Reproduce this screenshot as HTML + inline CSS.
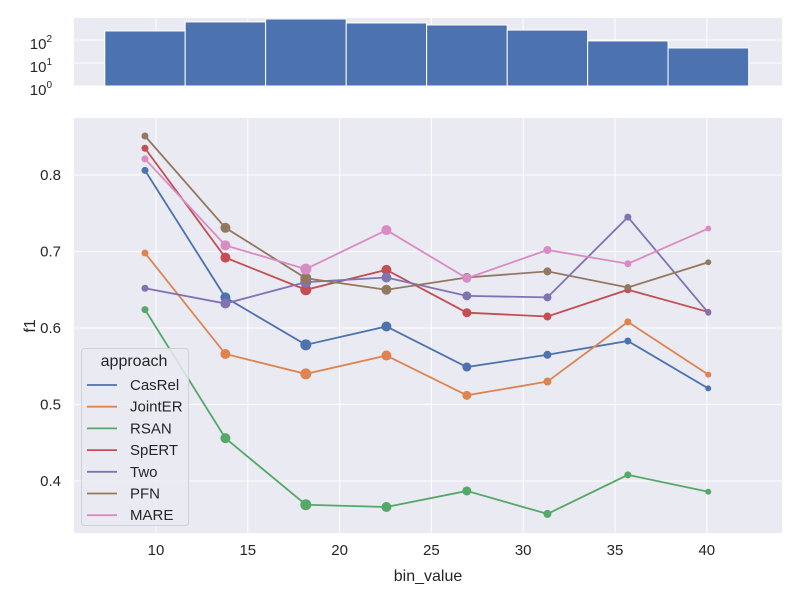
<!DOCTYPE html>
<html><head><meta charset="utf-8"><style>
body{margin:0;background:#fff;}
svg text{font-family:"Liberation Sans",sans-serif;fill:#262626;}
</style></head><body>
<svg id="c" width="800" height="600" xmlns="http://www.w3.org/2000/svg"></svg>
<script>
const bins = [9.4, 13.78, 18.16, 22.55, 26.93, 31.32, 35.7, 40.08];
const binEdges = [7.21, 11.59, 15.97, 20.36, 24.74, 29.13, 33.51, 37.89, 42.28];
const counts = [247, 610, 820, 550, 450, 270, 91, 45];
const markerSizes = [3.5, 5, 5.5, 5, 4.5, 4, 3.5, 3];
const approaches = ["CasRel","JointER","RSAN","SpERT","Two","PFN","MARE"];
const colors = ["#4c72b0","#dd8452","#55a868","#c44e52","#8172b3","#937860","#da8bc3"];
const casrel = [0.806,0.640,0.578,0.602,0.549,0.565,0.583,0.521];
const jointer = [0.698,0.566,0.540,0.564,0.512,0.530,0.608,0.539];
const rsan = [0.624,0.456,0.369,0.366,0.387,0.357,0.408,0.386];
const spert = [0.835,0.692,0.650,0.676,0.620,0.615,0.650,0.621];
const two = [0.652,0.632,0.660,0.666,0.642,0.640,0.745,0.620];
const pfn = [0.851,0.731,0.665,0.650,0.666,0.674,0.653,0.686];
const mare = [0.821,0.708,0.677,0.728,0.665,0.702,0.684,0.730];
const series = [casrel,jointer,rsan,spert,two,pfn,mare];
const xTicks = [10,15,20,25,30,35,40];
const yTicks = [0.4,0.5,0.6,0.7,0.8];
const histYTicks = [0,1,2];

const svg = document.getElementById('c');
const NS = "http://www.w3.org/2000/svg";
function mk(tag, attrs, parent){const e=document.createElementNS(NS,tag);for(const k in attrs)e.setAttribute(k,attrs[k]);(parent||svg).appendChild(e);return e;}
const X = v => 156 + (v-10)*18.36;
const Y = v => 175 + (0.8-v)*765;
const HY = c => 86 - Math.log10(c)*23;

const hbg = mk('rect',{x:74,y:18,width:708,height:68,fill:'#eaeaf2'});


xTicks.forEach(t=>{const l=mk('line',{x1:X(t),x2:X(t),y1:18,y2:86,stroke:'#fff','stroke-width':1});

});
histYTicks.forEach(p=>{const y=86-p*23;
const l=mk('line',{x1:74,x2:782,y1:y,y2:y,stroke:'#fff','stroke-width':1});


const t=mk('text',{x:52,y:y+9,'font-size':15,'text-anchor':'end'});t.textContent='10';


const s=mk('tspan',{dy:-7,'font-size':10});s.textContent=String(p);t.appendChild(s);});
counts.forEach((c,i)=>{const x0=X(binEdges[i]),x1=X(binEdges[i+1]);
const r=mk('rect',{x:x0,y:HY(c),width:x1-x0,height:86-HY(c),fill:'#4c72b0',stroke:'#fff','stroke-width':1});

});

const bg = mk('rect',{x:74,y:118,width:708,height:415,fill:'#eaeaf2'});


xTicks.forEach(t=>{const l=mk('line',{x1:X(t),x2:X(t),y1:118,y2:533,stroke:'#fff','stroke-width':1});


const tx=mk('text',{x:X(t),y:555,'font-size':15,'text-anchor':'middle'});tx.textContent=t;

});
yTicks.forEach(t=>{const l=mk('line',{x1:74,x2:782,y1:Y(t),y2:Y(t),stroke:'#fff','stroke-width':1});


const tx=mk('text',{x:61,y:Y(t)+5,'font-size':15,'text-anchor':'end'});tx.textContent=t.toFixed(1);

});

series.forEach((vals,si)=>{
const g=mk('g',{});


const pl=mk('polyline',{points:vals.map((v,i)=>X(bins[i])+','+Y(v)).join(' '),fill:'none',stroke:colors[si],'stroke-width':1.8},g);


vals.forEach((v,i)=>{const c=mk('circle',{cx:X(bins[i]),cy:Y(v),r:markerSizes[i],fill:colors[si]},g);

});
});

const xl=mk('text',{x:428,y:581,'font-size':16,'text-anchor':'middle'});xl.textContent='bin_value';


const yl=mk('text',{x:0,y:0,'font-size':16,'text-anchor':'middle',transform:'translate(35,326) rotate(-90)'});yl.textContent='f1';



const lg=mk('g',{});


mk('rect',{x:81.5,y:348.5,width:107,height:177,rx:3,fill:'#eaeaf2','fill-opacity':0.85,stroke:'#d0d0d8'},lg);
const lt=mk('text',{x:134,y:366,'font-size':16,'text-anchor':'middle'},lg);lt.textContent='approach';


approaches.forEach((a,i)=>{const y=385+i*21.7;
const e=mk('g',{},lg);


mk('line',{x1:87,x2:117,y1:y,y2:y,stroke:colors[i],'stroke-width':1.8},e);
const t=mk('text',{x:130,y:y+5,'font-size':15},e);t.textContent=a;});
</script>
</body></html>
